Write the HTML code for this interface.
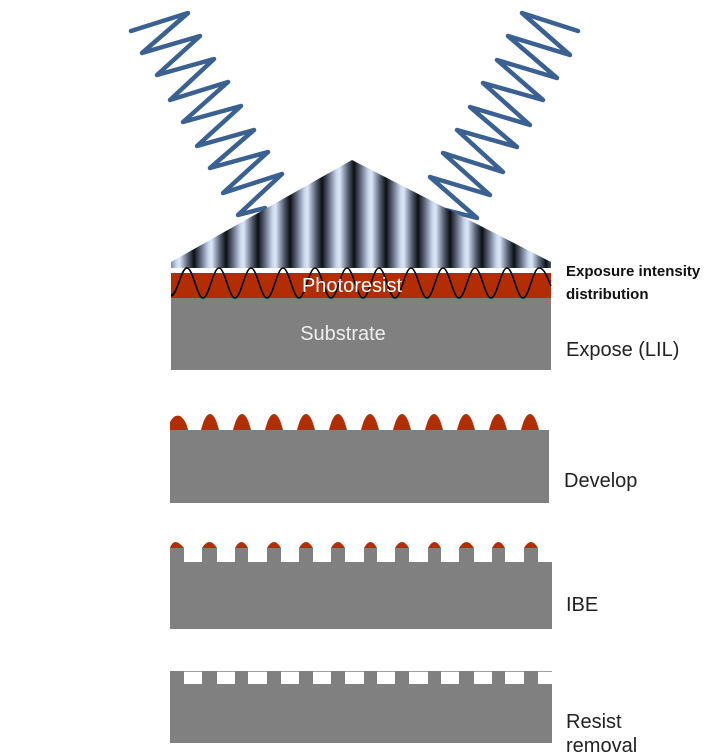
<!DOCTYPE html>
<html><head><meta charset="utf-8"><style>
html,body{margin:0;padding:0;background:#fff;}
svg{display:block;}
text{font-family:"Liberation Sans",sans-serif;}
</style></head><body>
<svg width="726" height="754" viewBox="0 0 726 754" xmlns="http://www.w3.org/2000/svg">
<defs>
<linearGradient id="st" gradientUnits="userSpaceOnUse" x1="162" y1="0" x2="194" y2="0" spreadMethod="repeat">
<stop offset="0" stop-color="#0d0f14"/>
<stop offset="0.2" stop-color="#5a6478"/>
<stop offset="0.45" stop-color="#c8d6ee"/>
<stop offset="0.55" stop-color="#dce7f8"/>
<stop offset="0.8" stop-color="#5a6478"/>
<stop offset="1" stop-color="#0d0f14"/>
</linearGradient>
</defs>
<!-- waves -->
<polyline fill="none" stroke="#3a6191" stroke-width="4.5" stroke-linejoin="round" stroke-linecap="round"
points="131,31 188,13 142,53 200,36 157,75 214,59 170,100 228,82 183,122 241,106 197,146 254,130 210,168 268,152 223,193 282,174 238,215 265,208"/>
<polyline fill="none" stroke="#3a6191" stroke-width="4.5" stroke-linejoin="round" stroke-linecap="round"
points="578,31 522,13 570,55 508,36 557,78 497,60 543,100 483,83 530,125 470,107 517,147 457,130 503,172 443,153 490,195 430,177 477,218 446,210"/>
<!-- interference triangle -->
<polygon points="171,262 352,160 551,262 551,268 171,268" fill="url(#st)"/>
<!-- expose stack -->
<rect x="171" y="273" width="380" height="25" fill="#b32d02"/>
<rect x="171" y="298" width="380" height="72" fill="#808080"/>
<path d="M171,295 C177,295 181,268 187,268 S197,298 203,298" fill="none" stroke="#000" stroke-width="1.5" id="w0"/>
<path fill="none" stroke="#000" stroke-width="1.6" d="M171,296
C177,296 181,268 187,268 C193,268 197,298 203,298 C209,298 213,268 219,268 C225,268 229,298 235,298
C241,298 245,268 251,268 C257,268 261,298 267,298 C273,298 277,268 283,268 C289,268 293,298 299,298
C305,298 309,268 315,268 C321,268 325,298 331,298 C337,298 341,268 347,268 C353,268 357,298 363,298
C369,298 373,268 379,268 C385,268 389,298 395,298 C401,298 405,268 411,268 C417,268 421,298 427,298
C433,298 437,268 443,268 C449,268 453,298 459,298 C465,298 469,268 475,268 C481,268 485,298 491,298
C497,298 501,268 507,268 C513,268 517,298 523,298 C529,298 533,268 539,268 C545,268 548,280 551,286"/>
<text x="352" y="292" font-size="20" fill="#fff" text-anchor="middle">Photoresist</text>
<text x="343" y="340" font-size="20" fill="#eee" text-anchor="middle">Substrate</text>
<!-- develop -->
<rect x="170" y="430" width="379" height="73" fill="#808080"/>
<g fill="#b32d02">
<path d="M170,430 L170,422 Q174,414 180,416 Q186,420 188,430Z"/>
<path d="M201,430 Q205,414 210,414 Q215,414 219,430Z"/>
<path d="M233,430 Q237,414 242,414 Q247,414 251,430Z"/>
<path d="M265,430 Q269,414 274,414 Q279,414 283,430Z"/>
<path d="M297,430 Q301,414 306,414 Q311,414 315,430Z"/>
<path d="M329,430 Q333,414 338,414 Q343,414 347,430Z"/>
<path d="M361,430 Q365,414 370,414 Q375,414 379,430Z"/>
<path d="M393,430 Q397,414 402,414 Q407,414 411,430Z"/>
<path d="M425,430 Q429,414 434,414 Q439,414 443,430Z"/>
<path d="M457,430 Q461,414 466,414 Q471,414 475,430Z"/>
<path d="M489,430 Q493,414 498,414 Q503,414 507,430Z"/>
<path d="M521,430 Q525,414 530,414 Q535,414 539,430Z"/>
</g>
<!-- IBE -->
<rect x="170" y="562" width="382" height="67" fill="#808080"/>
<g fill="#808080">
<rect x="170" y="548" width="14" height="15"/><rect x="202" y="548" width="15" height="15"/>
<rect x="235" y="548" width="13" height="15"/><rect x="267" y="548" width="14" height="15"/>
<rect x="299" y="548" width="14" height="15"/><rect x="331" y="548" width="14" height="15"/>
<rect x="364" y="548" width="13" height="15"/><rect x="395" y="548" width="14" height="15"/>
<rect x="428" y="548" width="13" height="15"/><rect x="459" y="548" width="15" height="15"/>
<rect x="492" y="548" width="13" height="15"/><rect x="524" y="548" width="14" height="15"/>
</g>
<g fill="#b32d02">
<path d="M170,548 Q174,536 184,548Z"/><path d="M202,548 Q209.5,536 217,548Z"/>
<path d="M235,548 Q241.5,536 248,548Z"/><path d="M267,548 Q274,536 281,548Z"/>
<path d="M299,548 Q306,536 313,548Z"/><path d="M331,548 Q338,536 345,548Z"/>
<path d="M364,548 Q370.5,536 377,548Z"/><path d="M395,548 Q402,536 409,548Z"/>
<path d="M428,548 Q434.5,536 441,548Z"/><path d="M459,548 Q466.5,536 474,548Z"/>
<path d="M492,548 Q498.5,536 505,548Z"/><path d="M524,548 Q531,536 538,548Z"/>
</g>
<!-- resist removal -->
<rect x="170" y="684" width="382" height="59" fill="#808080"/>
<rect x="170" y="671" width="382" height="1" fill="#a0a0a0"/>
<g fill="#808080">
<rect x="170" y="671" width="14" height="14"/><rect x="202" y="671" width="15" height="14"/>
<rect x="235" y="671" width="13" height="14"/><rect x="267" y="671" width="14" height="14"/>
<rect x="299" y="671" width="14" height="14"/><rect x="331" y="671" width="14" height="14"/>
<rect x="364" y="671" width="13" height="14"/><rect x="395" y="671" width="14" height="14"/>
<rect x="428" y="671" width="13" height="14"/><rect x="459" y="671" width="15" height="14"/>
<rect x="492" y="671" width="13" height="14"/><rect x="524" y="671" width="14" height="14"/>
</g>
<!-- labels -->
<text x="566" y="276" font-size="15" fill="#111" font-weight="bold">Exposure intensity</text>
<text x="566" y="299" font-size="15" fill="#111" font-weight="bold">distribution</text>
<text x="566" y="356" font-size="20" fill="#222">Expose (LIL)</text>
<text x="564" y="487" font-size="20" fill="#222">Develop</text>
<text x="566" y="611" font-size="20" fill="#222">IBE</text>
<text x="566" y="728" font-size="20" fill="#222">Resist</text>
<text x="566" y="752" font-size="20" fill="#222">removal</text>
</svg>
</body></html>
